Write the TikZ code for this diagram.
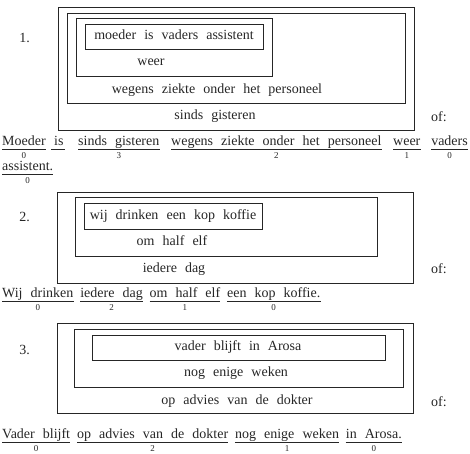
\documentclass[tikz,border=0pt]{standalone}
\usepackage{fontspec}
\setmainfont{Liberation Serif}[WordSpace=2.3]
\tikzset{
  bx/.style={draw=black!85, line width=0.8pt},
  txt/.style={inner sep=0pt, anchor=base, font=\fontsize{14}{16}\selectfont, text=black!85},
  seg/.style={txt, anchor=base west},
  dig/.style={inner sep=0pt, anchor=base, font=\fontsize{9}{10}\selectfont, text=black!85},
  ul/.style={draw=black!85, line width=0.7pt},
}
\newcommand\usegline[2]{%
  \draw[ul] ([yshift=-4pt]#1.base west) -- ([yshift=-4pt]#1.base east);
  \node[dig] (#1d) at ([yshift=-13pt]#1.base) {#2};}
\newcommand\useg[5]{%
  \node[seg] (#1) at (#2,#3) {#4};
  \usegline{#1}{#5}}
\newcommand\usegc[4]{%
  \node[seg] (#1) at ([xshift=6.5pt]#2.base east) {#3};
  \usegline{#1}{#4}}
\begin{document}
\begin{tikzpicture}[x=1pt,y=-1pt]
\useasboundingbox (0,0) rectangle (470,453);
% ---------- 1 ----------
\draw[bx] (58,7) rectangle (414,130);
\draw[bx] (67,13) rectangle (405,103);
\draw[bx] (76,18) rectangle (272,76);
\draw[bx] (85,24) rectangle (263,49);
\node[txt,anchor=base east] (n1) at (30,42.5) {1.};
\node[txt] (a1) at (174,39.5) {moeder is vaders assistent};
\node[txt] (a2) at (151,65.5) {weer};
\node[txt] (a3) at (217,93) {wegens ziekte onder het personeel};
\node[txt] (a4) at (215,119.5) {sinds gisteren};
\node[txt,anchor=base west] (of1) at (431,121) {of:};
\useg{r1a}{2}{145}{Moeder}{0}
\node[seg] (r1b) at (54,145) {is};
\draw[ul] ([yshift=-4pt,xshift=-3pt]r1b.base west) -- ([yshift=-4pt,xshift=1pt]r1b.base east);
\useg{r1c}{78}{145}{sinds gisteren}{3}
\useg{r1d}{171}{145}{wegens ziekte onder het personeel}{2}
\useg{r1e}{393}{145}{weer}{1}
\node[seg,anchor=base east] (r1f) at (468,145) {vaders};
\usegline{r1f}{0}
\useg{r1g}{2}{170.5}{assistent.}{0}
% ---------- 2 ----------
\draw[bx] (57,192) rectangle (413,283);
\draw[bx] (75,197) rectangle (377,256);
\draw[bx] (84,203) rectangle (262,229);
\node[txt,anchor=base east] (n2) at (30,221.5) {2.};
\node[txt] (b1) at (173,219) {wij drinken een kop koffie};
\node[txt] (b2) at (172,245.5) {om half elf};
\node[txt] (b3) at (174,272.5) {iedere dag};
\node[txt,anchor=base west] (of2) at (431,273) {of:};
\useg{r2a}{2}{297}{Wij drinken}{0}
\usegc{r2b}{r2a}{iedere dag}{2}
\usegc{r2c}{r2b}{om half elf}{1}
\usegc{r2d}{r2c}{een kop koffie.}{0}
% ---------- 3 ----------
\draw[bx] (57,323) rectangle (413,413);
\draw[bx] (74,329) rectangle (403,387);
\draw[bx] (92,335) rectangle (385,360);
\node[txt,anchor=base east] (n3) at (30,354.5) {3.};
\node[txt] (c1) at (238,350.5) {vader blijft in Arosa};
\node[txt] (c2) at (236,376.5) {nog enige weken};
\node[txt] (c3) at (237,404) {op advies van de dokter};
\node[txt,anchor=base west] (of3) at (431,406) {of:};
\useg{r3a}{2}{438}{Vader blijft}{0}
\usegc{r3b}{r3a}{op advies van de dokter}{2}
\usegc{r3c}{r3b}{nog enige weken}{1}
\usegc{r3d}{r3c}{in Arosa.}{0}
\end{tikzpicture}
\end{document}
